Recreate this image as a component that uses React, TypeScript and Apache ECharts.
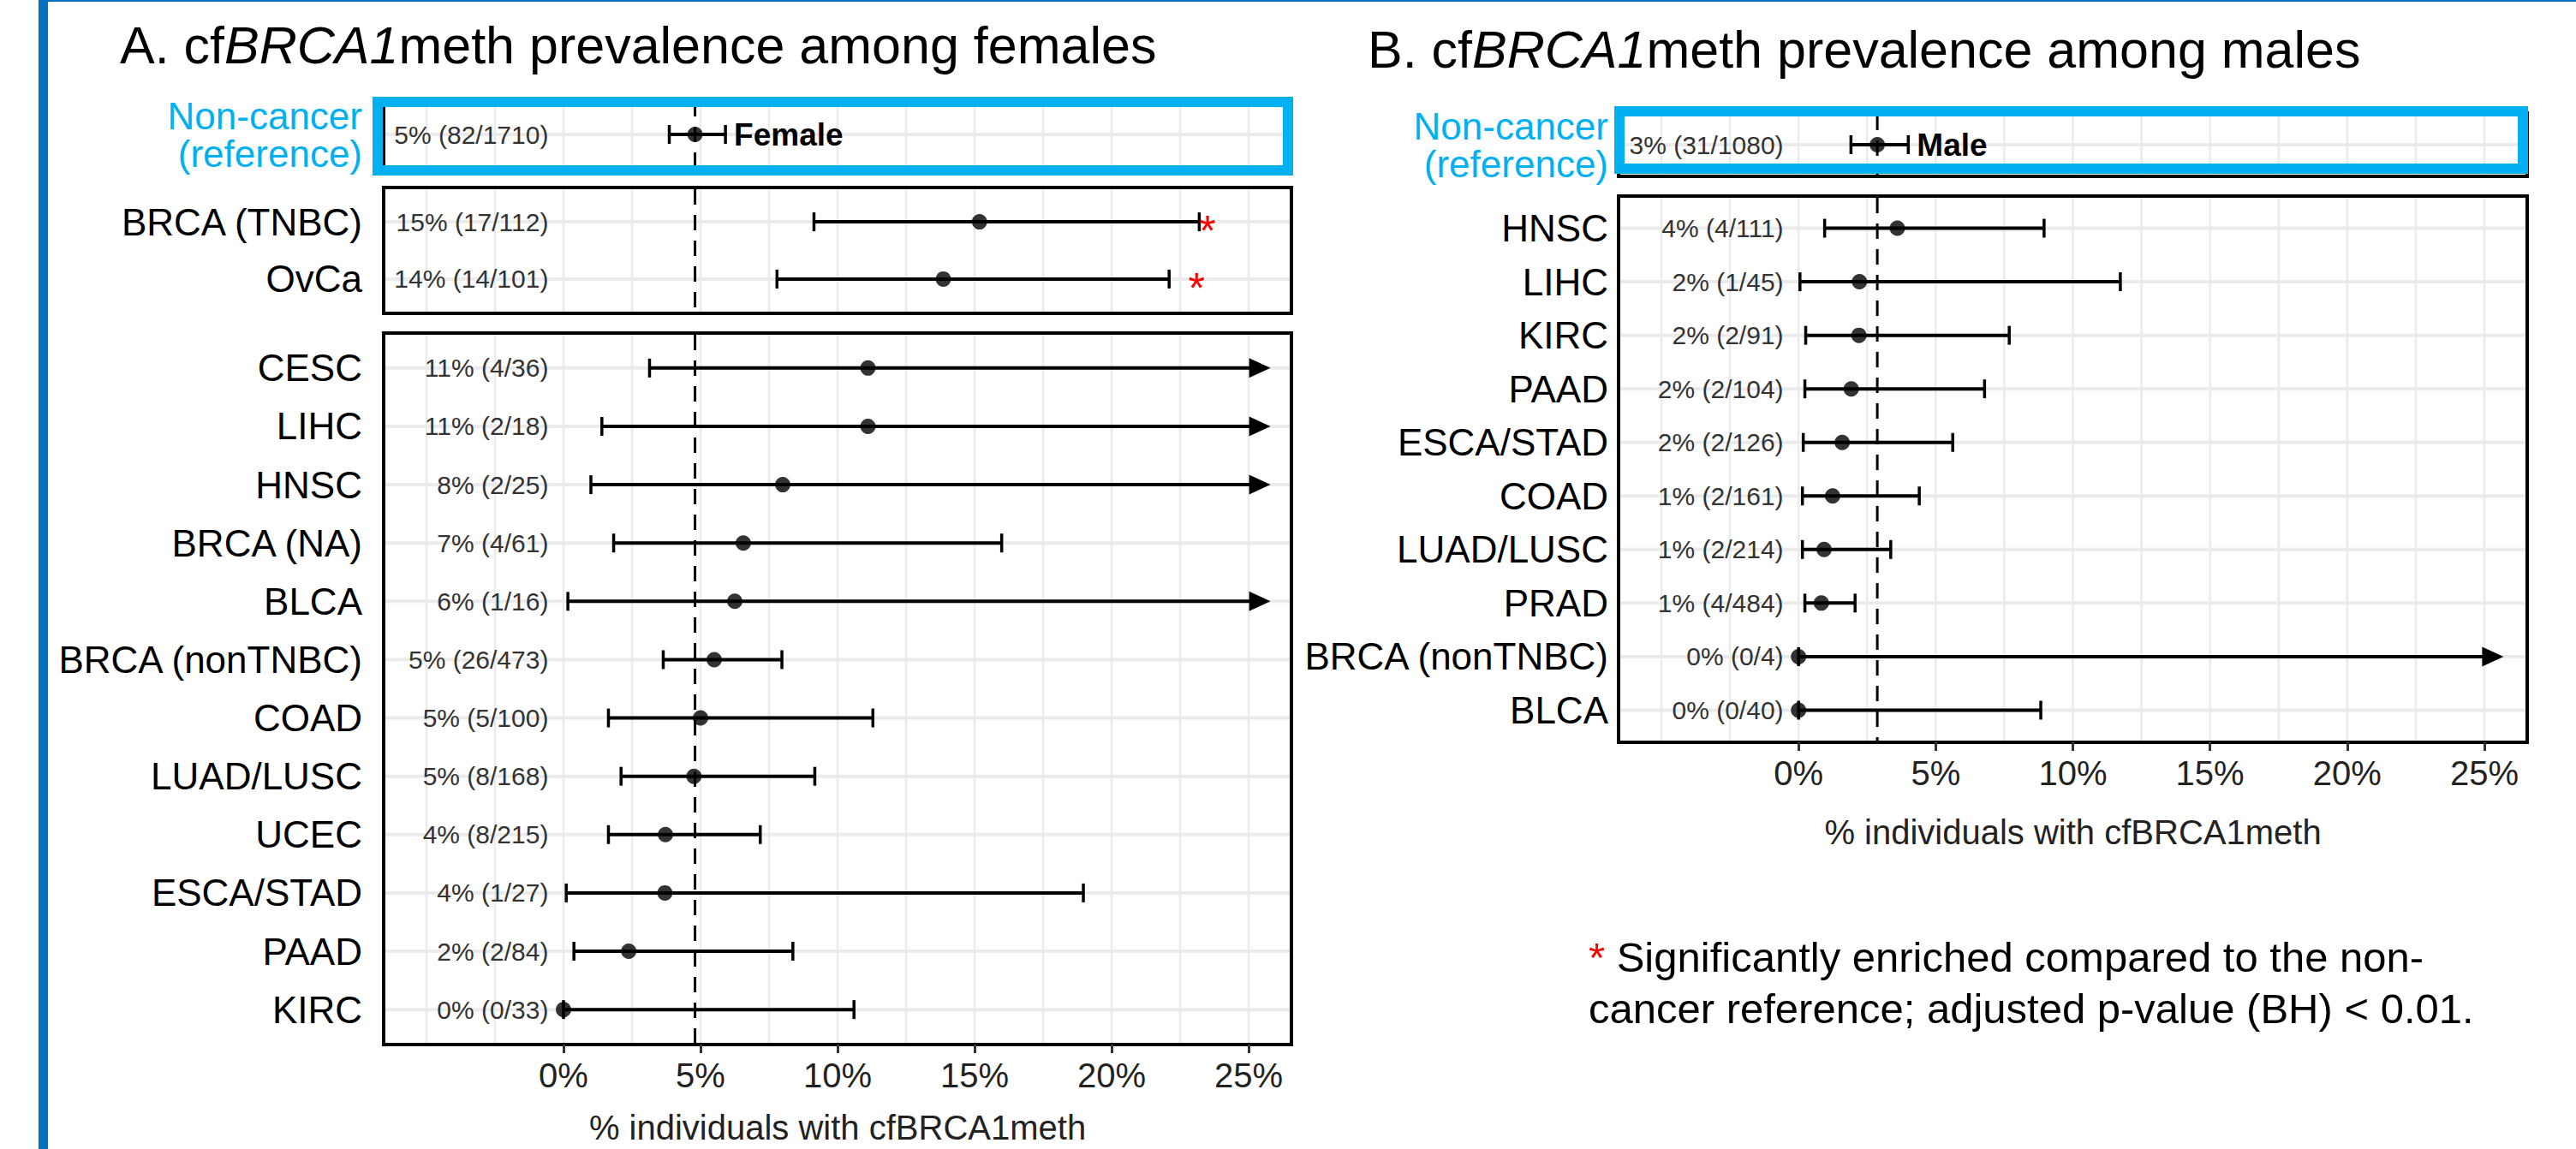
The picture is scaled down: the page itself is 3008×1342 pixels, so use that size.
import React, { useEffect, useRef } from 'react';
import * as echarts from 'echarts';

const FONT = '"Liberation Sans", Arial, Helvetica, sans-serif';

// ---------------- data ----------------
const xTickValues = [0, 5, 10, 15, 20, 25];
const xGridValues = [-5, -2.5, 0, 2.5, 5, 7.5, 10, 12.5, 15, 17.5, 20, 22.5, 25];
const xTitle = '% individuals with cfBRCA1meth';

// Panel A - females
const femaleRefCategories = ['Non-cancer\n(reference)'];
const femaleRefEstimate = [4.8];
const femaleRefLower = [3.86];
const femaleRefUpper = [5.91];
const femaleRefLabels = ['5% (82/1710)'];
const femaleRefTag = 'Female';

const femaleSigCategories = ['BRCA (TNBC)', 'OvCa'];
const femaleSigEstimate = [15.18, 13.86];
const femaleSigLower = [9.14, 7.79];
const femaleSigUpper = [23.2, 22.1];
const femaleSigLabels = ['15% (17/112)', '14% (14/101)'];
const femaleSigStarX = [23.5, 23.1];

const femaleCategories = ['CESC', 'LIHC', 'HNSC', 'BRCA (NA)', 'BLCA', 'BRCA (nonTNBC)', 'COAD', 'LUAD/LUSC', 'UCEC', 'ESCA/STAD', 'PAAD', 'KIRC'];
const femaleEstimate = [11.11, 11.11, 8.0, 6.56, 6.25, 5.5, 5.0, 4.76, 3.72, 3.7, 2.38, 0];
const femaleLower = [3.14, 1.4, 1.0, 1.83, 0.16, 3.64, 1.64, 2.1, 1.64, 0.1, 0.38, 0];
const femaleUpper = [25.8, 25.8, 25.8, 15.99, 25.8, 7.97, 11.29, 9.17, 7.18, 18.97, 8.37, 10.6];
const femaleTruncated = [1, 1, 1, 0, 1, 0, 0, 0, 0, 0, 0, 0];
const femaleLabels = ['11% (4/36)', '11% (2/18)', '8% (2/25)', '7% (4/61)', '6% (1/16)', '5% (26/473)', '5% (5/100)', '5% (8/168)', '4% (8/215)', '4% (1/27)', '2% (2/84)', '0% (0/33)'];

// Panel B - males
const maleRefCategories = ['Non-cancer\n(reference)'];
const maleRefEstimate = [2.87];
const maleRefLower = [1.91];
const maleRefUpper = [4.0];
const maleRefLabels = ['3% (31/1080)'];
const maleRefTag = 'Male';

const maleCategories = ['HNSC', 'LIHC', 'KIRC', 'PAAD', 'ESCA/STAD', 'COAD', 'LUAD/LUSC', 'PRAD', 'BRCA (nonTNBC)', 'BLCA'];
const maleEstimate = [3.6, 2.22, 2.2, 1.92, 1.59, 1.24, 0.93, 0.83, 0, 0];
const maleLower = [0.95, 0.05, 0.26, 0.23, 0.17, 0.14, 0.14, 0.23, 0, 0];
const maleUpper = [8.95, 11.73, 7.68, 6.78, 5.62, 4.4, 3.36, 2.06, 25.7, 8.83];
const maleTruncated = [0, 0, 0, 0, 0, 0, 0, 0, 1, 0];
const maleLabels = ['4% (4/111)', '2% (1/45)', '2% (2/91)', '2% (2/104)', '2% (2/126)', '1% (2/161)', '1% (2/214)', '1% (4/484)', '0% (0/4)', '0% (0/40)'];

const footnoteLine1 = '{r|*} Significantly enriched compared to the non-';
const footnoteLine2 = 'cancer reference; adjusted p-value (BH) < 0.01.';

// ---------------- layout / style ----------------
const X_MIN = -6.5625;
const X_MAX = 26.5625;
const LABEL_X = -0.55;
const CYAN = '#00B0F0';
const ARROW_LEN = 25;

type Panel = {
  cats: string[];
  est: number[];
  lo: number[];
  hi: number[];
  trunc?: number[];
  labels: string[];
  tag?: string;
  stars?: number[];
  ref: number;
  box: { left: number; top: number; width: number; height: number };
  labelColor: string;
  labelMargin: number;
  labelPadding: number[];
  showX: boolean;
  nameGap: number;
};

const panels: Panel[] = [
  {
    cats: femaleRefCategories, est: femaleRefEstimate, lo: femaleRefLower, hi: femaleRefUpper,
    labels: femaleRefLabels, tag: femaleRefTag, ref: femaleRefEstimate[0],
    box: { left: 448, top: 116, width: 1060, height: 82 }, labelColor: CYAN, labelMargin: 25,
    labelPadding: [0, 0, 12, 0], showX: false, nameGap: 80,
  },
  {
    cats: femaleSigCategories, est: femaleSigEstimate, lo: femaleSigLower, hi: femaleSigUpper,
    labels: femaleSigLabels, stars: femaleSigStarX, ref: femaleRefEstimate[0],
    box: { left: 448, top: 219, width: 1060, height: 147 }, labelColor: '#000', labelMargin: 25,
    labelPadding: [0, 0, 0, 0], showX: false, nameGap: 80,
  },
  {
    cats: femaleCategories, est: femaleEstimate, lo: femaleLower, hi: femaleUpper, trunc: femaleTruncated,
    labels: femaleLabels, ref: femaleRefEstimate[0],
    box: { left: 448, top: 389, width: 1060, height: 831 }, labelColor: '#000', labelMargin: 25,
    labelPadding: [0, 0, 0, 0], showX: true, nameGap: 77,
  },
  {
    cats: maleRefCategories, est: maleRefEstimate, lo: maleRefLower, hi: maleRefUpper,
    labels: maleRefLabels, tag: maleRefTag, ref: maleRefEstimate[0],
    box: { left: 1890, top: 132, width: 1061, height: 74 }, labelColor: CYAN, labelMargin: 12,
    labelPadding: [0, 0, 22, 0], showX: false, nameGap: 84,
  },
  {
    cats: maleCategories, est: maleEstimate, lo: maleLower, hi: maleUpper, trunc: maleTruncated,
    labels: maleLabels, ref: maleRefEstimate[0],
    box: { left: 1890, top: 229, width: 1061, height: 638 }, labelColor: '#000', labelMargin: 12,
    labelPadding: [0, 0, 0, 0], showX: true, nameGap: 85,
  },
];

function buildOption() {
  const grid: any[] = [];
  const xAxis: any[] = [];
  const yAxis: any[] = [];
  const series: any[] = [];

  panels.forEach((p, g) => {
    const n = p.cats.length;
    grid.push({
      ...p.box,
      show: true,
      borderColor: '#000',
      borderWidth: 4,
      backgroundColor: 'transparent',
      containLabel: false,
      outerBoundsMode: 'none',
    });
    xAxis.push({
      type: 'value',
      gridIndex: g,
      min: X_MIN,
      max: X_MAX,
      axisLine: { show: p.showX, onZero: false, lineStyle: { color: '#000', width: 4 } },
      axisTick: { show: p.showX, customValues: xTickValues, length: 10, lineStyle: { color: '#333', width: 3 } },
      axisLabel: {
        show: p.showX, customValues: xTickValues, formatter: '{value}%',
        fontSize: 40, fontFamily: FONT, color: '#222', margin: 16,
      },
      splitLine: { show: false },
      name: p.showX ? xTitle : '',
      nameLocation: 'middle',
      nameGap: p.nameGap,
      nameTextStyle: { fontSize: 40, fontFamily: FONT, color: '#222' },
    });
    yAxis.push({
      type: 'value',
      gridIndex: g,
      inverse: true,
      min: 0.4,
      max: n + 0.6,
      axisLine: { show: false },
      axisTick: { show: false },
      splitLine: { show: false },
      axisLabel: {
        customValues: p.cats.map((_, i) => i + 1),
        formatter: (v: number) => p.cats[Math.round(v) - 1] ?? '',
        fontSize: 44,
        lineHeight: 44,
        fontFamily: FONT,
        color: p.labelColor,
        margin: p.labelMargin,
        padding: p.labelPadding,
      },
    });

    // background grid lines + reference dashed line
    series.push({
      type: 'custom',
      xAxisIndex: g,
      yAxisIndex: g,
      z: 1,
      silent: true,
      data: [[0, 1]],
      encode: { x: 0, y: 1 },
      renderItem: (params: any, api: any) => {
        const cs = params.coordSys;
        const children: any[] = [];
        xGridValues.forEach((v) => {
          const px = api.coord([v, 1])[0];
          children.push({
            type: 'line',
            shape: { x1: px, y1: cs.y + 2, x2: px, y2: cs.y + cs.height - 2 },
            style: { stroke: '#EBEBEB', lineWidth: 2.5 },
          });
        });
        p.cats.forEach((_, i) => {
          const py = api.coord([0, i + 1])[1];
          children.push({
            type: 'line',
            shape: { x1: cs.x + 2, y1: py, x2: cs.x + cs.width - 2, y2: py },
            style: { stroke: '#EBEBEB', lineWidth: 4 },
          });
        });
        const rx = api.coord([p.ref, 1])[0];
        children.push({
          type: 'line',
          shape: { x1: rx, y1: cs.y + 2, x2: rx, y2: cs.y + cs.height - 2 },
          style: { stroke: '#000', lineWidth: 3, lineDash: [18, 12] },
        });
        return { type: 'group', children };
      },
    });

    // error bars, labels, tags, stars
    series.push({
      type: 'custom',
      xAxisIndex: g,
      yAxisIndex: g,
      z: 3,
      silent: true,
      data: p.est.map((e, i) => [e, i + 1, p.lo[i], p.hi[i], p.trunc ? p.trunc[i] : 0]),
      encode: { x: [0, 2, 3], y: 1 },
      renderItem: (params: any, api: any) => {
        const i = params.dataIndex;
        const row = api.value(1);
        const lo = api.value(2);
        const hi = api.value(3);
        const truncated = api.value(4) === 1;
        const a = api.coord([lo, row]);
        const b = api.coord([hi, row]);
        const y = a[1];
        const children: any[] = [];
        const lineEnd = truncated ? b[0] - ARROW_LEN + 2 : b[0];
        children.push({
          type: 'line',
          shape: { x1: a[0], y1: y, x2: lineEnd, y2: y },
          style: { stroke: '#000', lineWidth: 4 },
        });
        children.push({
          type: 'line',
          shape: { x1: a[0], y1: y - 11, x2: a[0], y2: y + 11 },
          style: { stroke: '#000', lineWidth: 3.5 },
        });
        if (truncated) {
          children.push({
            type: 'polygon',
            shape: { points: [[b[0], y], [b[0] - ARROW_LEN, y - 11.5], [b[0] - ARROW_LEN, y + 11.5]] },
            style: { fill: '#000' },
          });
        } else {
          children.push({
            type: 'line',
            shape: { x1: b[0], y1: y - 11, x2: b[0], y2: y + 11 },
            style: { stroke: '#000', lineWidth: 3.5 },
          });
        }
        const lp = api.coord([LABEL_X, row]);
        children.push({
          type: 'text',
          x: lp[0],
          y: lp[1],
          style: {
            text: p.labels[i], fill: '#333', fontSize: 30, fontFamily: FONT,
            align: 'right', verticalAlign: 'middle',
          },
        });
        if (p.tag) {
          children.push({
            type: 'text',
            x: b[0] + 10,
            y: y,
            style: {
              text: p.tag, fill: '#000', fontSize: 37, fontWeight: 'bold', fontFamily: FONT,
              align: 'left', verticalAlign: 'middle',
            },
          });
        }
        if (p.stars) {
          const sp = api.coord([p.stars[i], row]);
          children.push({
            type: 'text',
            x: sp[0],
            y: sp[1] + 11,
            style: {
              text: '*', fill: '#FF0000', fontSize: 50, fontFamily: FONT,
              align: 'center', verticalAlign: 'middle',
            },
          });
        }
        return { type: 'group', children };
      },
    });

    // point estimates
    series.push({
      type: 'scatter',
      xAxisIndex: g,
      yAxisIndex: g,
      z: 4,
      silent: true,
      symbol: 'circle',
      symbolSize: 18,
      itemStyle: { color: '#000' },
      data: p.est.map((e, i) => [e, i + 1]),
    });
  });

  const graphic: any[] = [
    { type: 'rect', z: 200, shape: { x: 45, y: 0, width: 2963, height: 2 }, style: { fill: '#0070C0' } },
    { type: 'rect', z: 200, shape: { x: 45, y: 0, width: 11, height: 1342 }, style: { fill: '#0070C0' } },
    { type: 'rect', z: 100, shape: { x: 441, y: 119, width: 1063, height: 80 }, style: { fill: 'none', stroke: CYAN, lineWidth: 12 } },
    { type: 'rect', z: 100, shape: { x: 1891, y: 130, width: 1055, height: 67 }, style: { fill: 'none', stroke: CYAN, lineWidth: 12 } },
    {
      type: 'text', z: 100, x: 140, y: 53,
      style: {
        text: 'A. cf{i|BRCA1}meth prevalence among females',
        fontSize: 61, fontFamily: FONT, fill: '#000', align: 'left', verticalAlign: 'middle',
        rich: { i: { fontStyle: 'italic', fontSize: 61, fontFamily: FONT, fill: '#000' } },
      },
    },
    {
      type: 'text', z: 100, x: 1597, y: 58,
      style: {
        text: 'B. cf{i|BRCA1}meth prevalence among males',
        fontSize: 61, fontFamily: FONT, fill: '#000', align: 'left', verticalAlign: 'middle',
        rich: { i: { fontStyle: 'italic', fontSize: 61, fontFamily: FONT, fill: '#000' } },
      },
    },
    {
      type: 'text', z: 100, x: 1855, y: 1118,
      style: {
        text: footnoteLine1,
        fontSize: 49, fontFamily: FONT, fill: '#000', align: 'left', verticalAlign: 'middle',
        rich: { r: { fill: '#FF0000', fontSize: 49, fontFamily: FONT } },
      },
    },
    {
      type: 'text', z: 100, x: 1855, y: 1178,
      style: {
        text: footnoteLine2,
        fontSize: 49, fontFamily: FONT, fill: '#000', align: 'left', verticalAlign: 'middle',
      },
    },
  ];

  return {
    animation: false,
    backgroundColor: '#ffffff',
    textStyle: { fontFamily: FONT },
    grid,
    xAxis,
    yAxis,
    series,
    graphic,
  };
}

export default function App() {
  const ref = useRef<HTMLDivElement>(null);
  useEffect(() => {
    if (!ref.current) return;
    const chart = echarts.init(ref.current, undefined, { renderer: 'svg' });
    chart.setOption(buildOption() as any);
    return () => chart.dispose();
  }, []);
  return (
    <div
      ref={ref}
      style={{ position: 'absolute', left: 0, top: 0, width: 3008, height: 1342, background: '#fff' }}
    />
  );
}
